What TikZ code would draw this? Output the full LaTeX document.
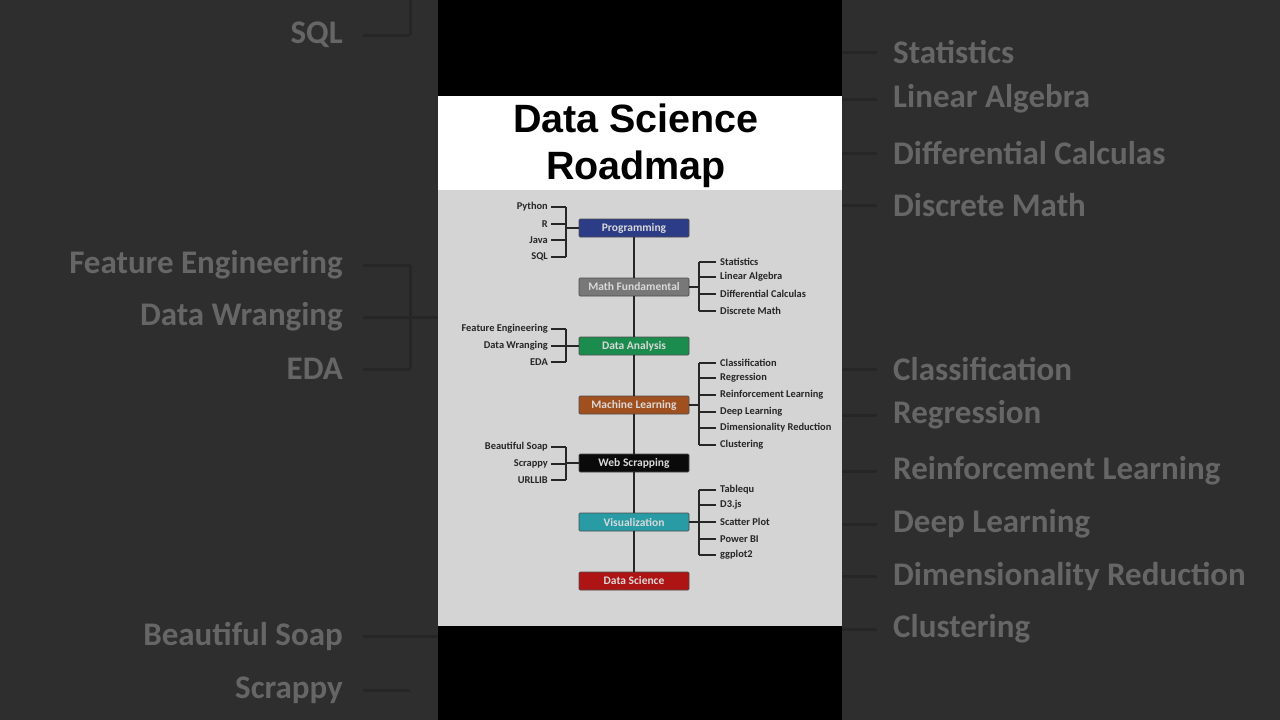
\documentclass[tikz,border=0pt]{standalone}
\usepackage{fontspec}
\setmainfont{Carlito}
\newfontfamily\titlefont{Liberation Sans}
\begin{document}
\begin{tikzpicture}[x=1pt,y=-1pt,
  stage/.style={draw=black!70,line width=0.6pt,rounded corners=1pt,minimum width=110pt,minimum height=18pt,inner sep=0pt,font=\bfseries\fontsize{11.5}{12}\selectfont,text=white!85!black},
  item/.style={inner sep=0pt,font=\bfseries\fontsize{10.4}{11}\selectfont,text=black!85},
  big/.style={inner sep=0pt,font=\bfseries\fontsize{33}{34}\selectfont,text=black!60},
  ln/.style={line width=1.3pt,black!85},
  bln/.style={line width=3pt,black!85}]
\fill[black!82] (0,0) rectangle (1280,720);
\useasboundingbox (0,0) rectangle (1280,720);
% blurred side content
\foreach \t/\y in {SQL/35,Feature Engineering/265,Data Wranging/317,EDA/369,Beautiful Soap/636,Scrappy/690}
  {\node[big,anchor=east] (L\y) at (343,\y) {\t}; \coordinate (LA\y) at (363,\y); \draw[bln] (LA\y) -- (410,\y);}
\draw[bln] (410,0) -- (410,35);
\draw[bln] (410,265) -- (410,369);
\draw[bln] (410,317) -- (438,317);
\draw[bln] (410,636) -- (438,636);
\foreach \t/\y in {Statistics/52,Linear Algebra/99,Differential Calculas/153,Discrete Math/205,Classification/369,Regression/415,Reinforcement Learning/471,Deep Learning/524,Dimensionality Reduction/576,Clustering/629}
  {\node[big,anchor=west] (R\y) at (893,\y) {\t}; \coordinate (RA\y) at (842,\y); \draw[bln] (RA\y) -- (877,\y);}
% central panel
\fill[black] (438,0) rectangle (842,720);
\fill[white] (438,96) rectangle (842,190);
\fill[black!17] (438,190) rectangle (842,626);
\node[font=\titlefont\bfseries\fontsize{39.5}{47}\selectfont,align=center,text=black] (title) at (636,146) {Data Science\\Roadmap};
% stages
\node[stage,fill={rgb,255:red,44;green,60;blue,135}] (p) at (634,228) {Programming};
\node[stage,fill={rgb,255:red,120;green,120;blue,120}] (m) at (634,287) {Math Fundamental};
\node[stage,fill={rgb,255:red,28;green,140;blue,78}] (d) at (634,346) {Data Analysis};
\node[stage,fill={rgb,255:red,160;green,80;blue,30}] (ml) at (634,405) {Machine Learning};
\node[stage,fill={rgb,255:red,10;green,10;blue,10}] (w) at (634,463) {Web Scrapping};
\node[stage,fill={rgb,255:red,40;green,155;blue,165}] (v) at (634,522) {Visualization};
\node[stage,fill={rgb,255:red,175;green,20;blue,20}] (ds) at (634,581) {Data Science};
\foreach \a/\b in {p/m,m/d,d/ml,ml/w,w/v,v/ds} \draw[ln] (\a) -- (\b);
% left groups
\foreach \t/\y/\n in {Python/207/a,R/224/b,Java/240/c,SQL/257/d,Feature Engineering/329/e,Data Wranging/346/f,EDA/362/g,Beautiful Soap/447/h,Scrappy/464/i,URLLIB/480/j}
  {\node[item,anchor=east] (li\n) at (548,\y) {\t}; \draw[ln] (li\n.east) ++(3,0) -- (566,\y);}
\draw[ln] (566,207) -- (566,257); \draw[ln] (566,228) -- (p.west);
\draw[ln] (566,329) -- (566,362); \draw[ln] (566,346) -- (d.west);
\draw[ln] (566,447) -- (566,480); \draw[ln] (566,463) -- (w.west);
% right groups
\foreach \t/\y/\n in {Statistics/262/a,Linear Algebra/277/b,Differential Calculas/294/c,Discrete Math/311/d,Classification/363/e,Regression/378/f,Reinforcement Learning/395/g,Deep Learning/412/h,Dimensionality Reduction/428/i,Clustering/445/j,Tablequ/490/k,D3.js/505/l,Scatter Plot/522/m,Power BI/539/n,ggplot2/555/o}
  {\node[item,anchor=west] (ri\n) at (720,\y) {\t}; \draw[ln] (699,\y) -- ([xshift=-4pt]ri\n.west);}
\draw[ln] (699,262) -- (699,311); \draw[ln] (m.east) -- (699,287);
\draw[ln] (699,363) -- (699,445); \draw[ln] (ml.east) -- (699,405);
\draw[ln] (699,490) -- (699,555); \draw[ln] (v.east) -- (699,522);
\end{tikzpicture}
\end{document}
